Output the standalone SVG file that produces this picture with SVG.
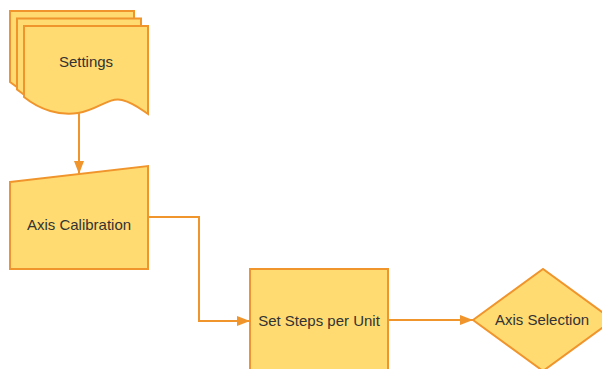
<svg xmlns="http://www.w3.org/2000/svg" width="602" height="369" viewBox="0 0 602 369">
<style>
.n{fill:#FFDB72;stroke:#F0942C;stroke-width:2;stroke-linejoin:miter}
.t{font-family:"Liberation Sans",Arial,sans-serif;font-size:15px;fill:#333333;text-anchor:middle;dominant-baseline:central}
.c{fill:none;stroke:#F0942C;stroke-width:2}
</style>
<defs>
<marker id="ah" viewBox="0 0 13 10" refX="13" refY="5" markerWidth="13" markerHeight="10" markerUnits="userSpaceOnUse" orient="auto">
<path d="M0,0 L13,5 L0,10 Z" fill="#F0942C"/>
</marker>
<path id="doc" d="M24,26 H148 V114 C142,110 134,103 122,100 C108,97 98,110 78,113 C60,116 40,110 24,97 Z"/>
</defs>
<g id="settings">
<use href="#doc" class="n" transform="translate(-14,-15)"/>
<use href="#doc" class="n" transform="translate(-7,-7.5)"/>
<use href="#doc" class="n"/>
<text class="t" x="86" y="61">Settings</text>
</g>
<g id="axis-calibration">
<path class="n" d="M10,182 L148,166 L148,269 L10,269 Z"/>
<text class="t" x="79" y="224">Axis Calibration</text>
</g>
<g id="set-steps">
<rect class="n" x="250" y="269" width="138" height="110"/>
<text class="t" x="319" y="320">Set Steps per Unit</text>
</g>
<g id="axis-selection">
<path class="n" d="M473,320 L543,269 L613,320 L543,371 Z"/>
<text class="t" x="542" y="319">Axis Selection</text>
</g>
<g id="connectors">
<path class="c" d="M79,113 V174" marker-end="url(#ah)"/>
<path class="c" d="M148,217 H199 V321 H250" marker-end="url(#ah)"/>
<path class="c" d="M388,320 H473" marker-end="url(#ah)"/>
</g>
</svg>
